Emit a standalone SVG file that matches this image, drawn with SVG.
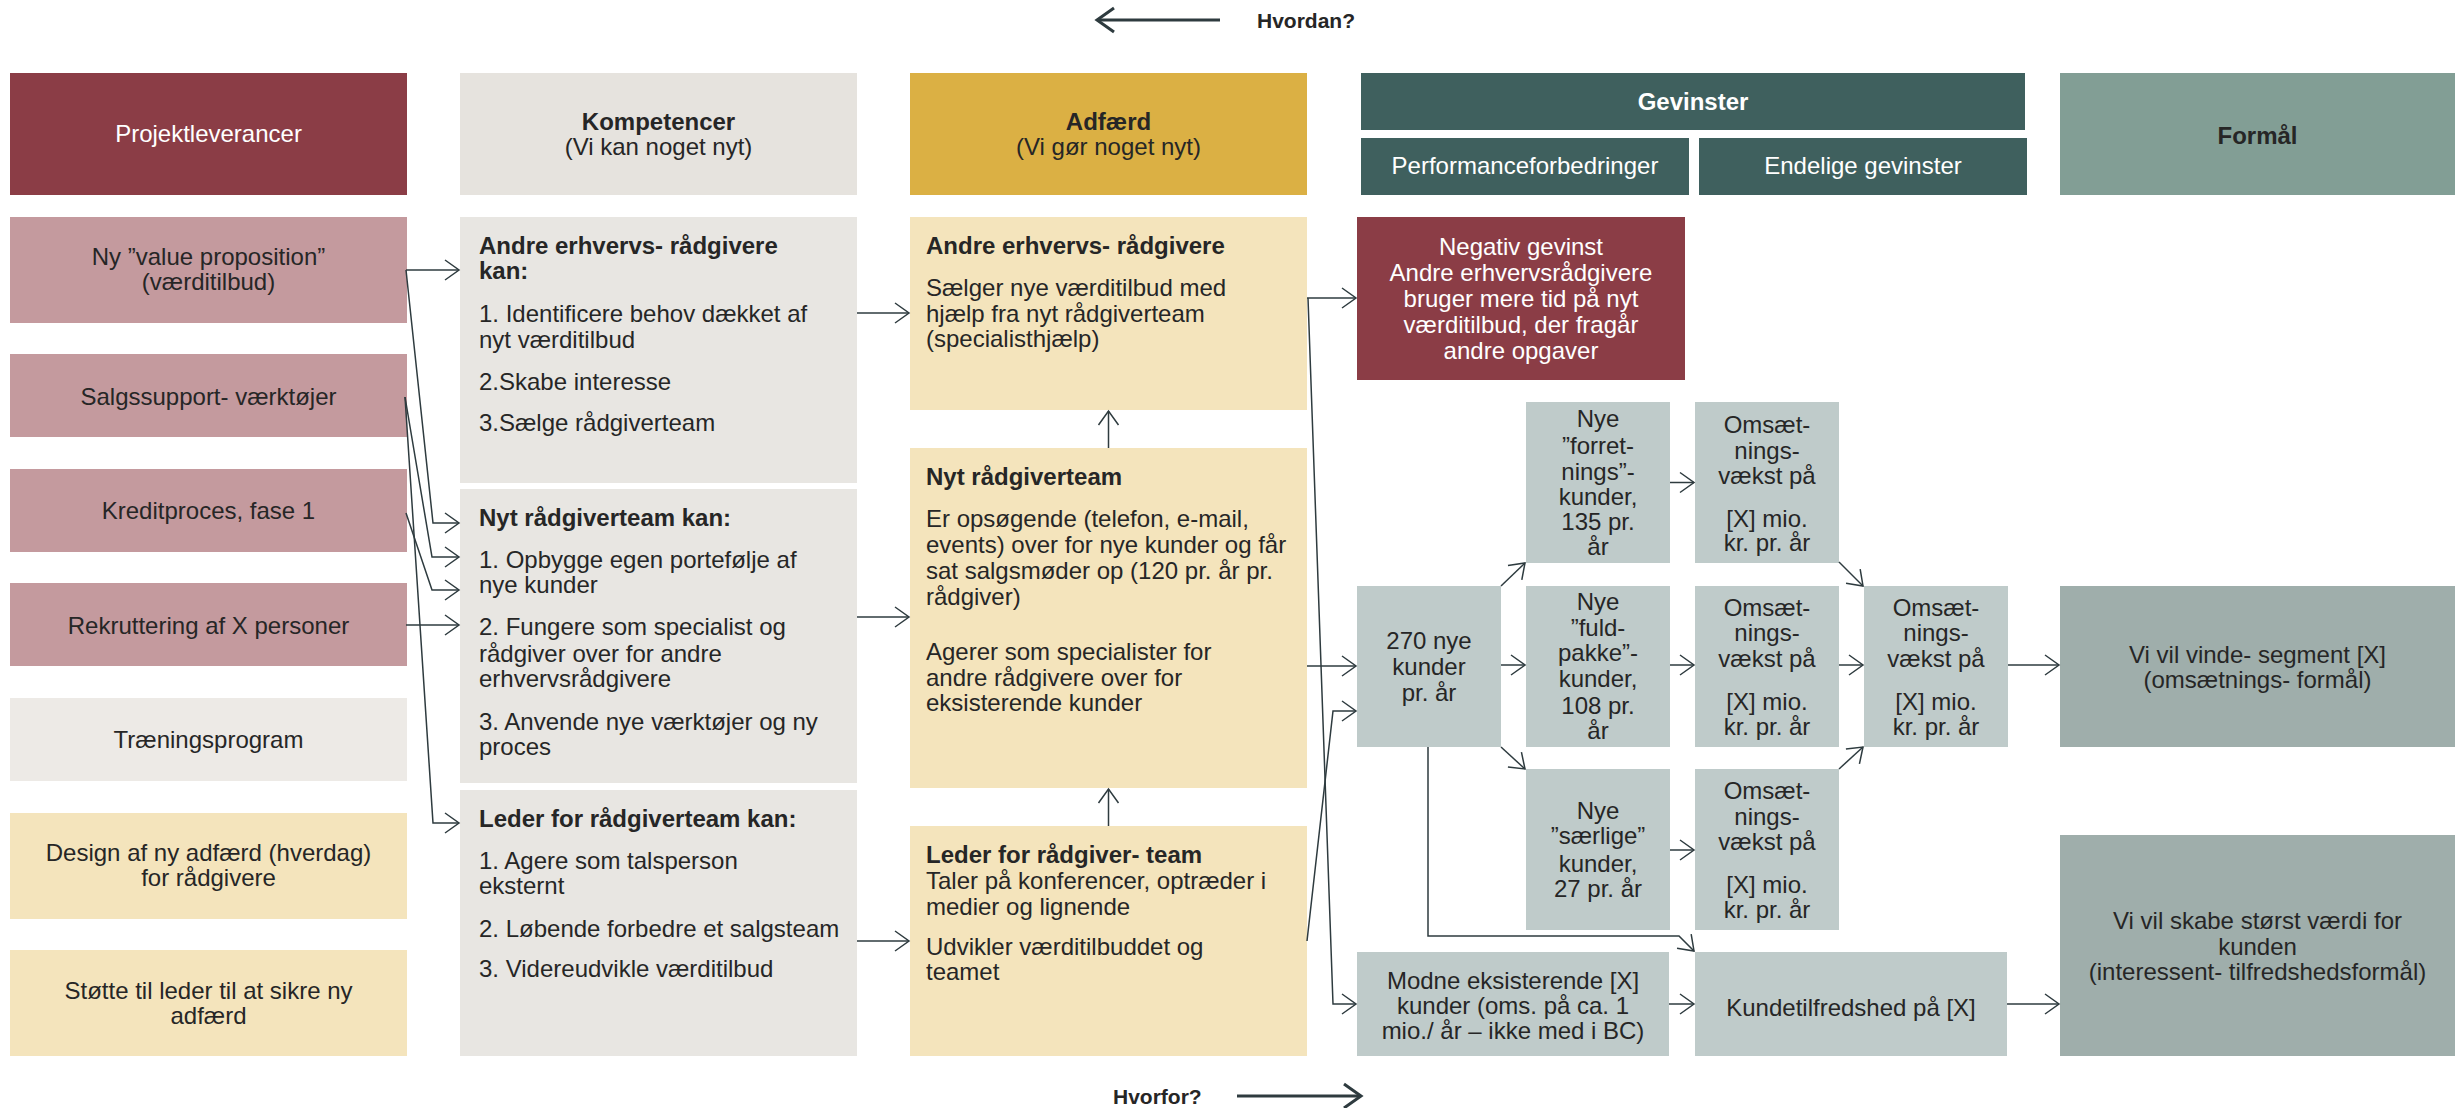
<svg xmlns="http://www.w3.org/2000/svg" width="2455" height="1108" viewBox="0 0 2455 1108">
<style>
text{font-family:"Liberation Sans",Arial,sans-serif;font-size:24px;fill:#262626}
.b{font-weight:bold}
.w{fill:#ffffff}
.c{text-anchor:middle}
.con{fill:none;stroke:#2e3b3f;stroke-width:1.5;marker-end:url(#ah)}
.big{fill:none;stroke:#2e3b3f;stroke-width:3;marker-end:url(#ahb)}
.hdr{font-size:21px;font-weight:bold}
</style>
<defs>
<marker id="ah" markerUnits="userSpaceOnUse" markerWidth="24" markerHeight="26" viewBox="-18 -13 24 26" refX="0" refY="0" orient="auto" overflow="visible"><path d="M-14,-10 L0,0 L-14,10" fill="none" stroke="#2e3b3f" stroke-width="1.5"/></marker>
<marker id="ahb" markerUnits="userSpaceOnUse" markerWidth="26" markerHeight="30" viewBox="-20 -15 26 30" refX="0" refY="0" orient="auto" overflow="visible"><path d="M-17,-12 L0,0 L-17,12" fill="none" stroke="#2e3b3f" stroke-width="3"/></marker>
</defs>
<rect width="2455" height="1108" fill="#ffffff"/>

<g id="hvordan"><text class="hdr" x="1257" y="28">Hvordan?</text></g>
<g id="hvorfor"><text class="hdr" x="1113" y="1104">Hvorfor?</text></g>

<g id="h-projekt"><rect x="10" y="73" width="397" height="122" fill="#8B3D46"/><text class="c w" x="208.5" y="142">Projektleverancer</text></g>
<g id="h-kompetencer"><rect x="460" y="73" width="397" height="122" fill="#E6E3DE"/><text class="c b" x="658.5" y="130">Kompetencer</text><text class="c" x="658.5" y="155">(Vi kan noget nyt)</text></g>
<g id="h-adfaerd"><rect x="910" y="73" width="397" height="122" fill="#DBB044"/><text class="c b" x="1108.5" y="130">Adfærd</text><text class="c" x="1108.5" y="155">(Vi gør noget nyt)</text></g>
<g id="h-gevinster"><rect x="1361" y="73" width="664" height="57" fill="#3F605E"/><text class="c b w" x="1693" y="110">Gevinster</text></g>
<g id="h-performance"><rect x="1361" y="138" width="328" height="57" fill="#3F605E"/><text class="c w" x="1525" y="174">Performanceforbedringer</text></g>
<g id="h-endelige"><rect x="1699" y="138" width="328" height="57" fill="#3F605E"/><text class="c w" x="1863" y="174">Endelige gevinster</text></g>
<g id="h-formaal"><rect x="2060" y="73" width="395" height="122" fill="#829E95"/><text class="c b" x="2257.5" y="144">Formål</text></g>

<g id="p-value"><rect x="10" y="217" width="397" height="106" fill="#C49A9E"/><text class="c" x="208.5" y="264.5">Ny ”value proposition”</text><text class="c" x="208.5" y="290">(værditilbud)</text></g>
<g id="p-salg"><rect x="10" y="354" width="397" height="83" fill="#C49A9E"/><text class="c" x="208.5" y="404.5">Salgssupport- værktøjer</text></g>
<g id="p-kredit"><rect x="10" y="469" width="397" height="83" fill="#C49A9E"/><text class="c" x="208.5" y="518.5">Kreditproces, fase 1</text></g>
<g id="p-rekrut"><rect x="10" y="583" width="397" height="83" fill="#C49A9E"/><text class="c" x="208.5" y="634">Rekruttering af X personer</text></g>
<g id="p-traening"><rect x="10" y="698" width="397" height="83" fill="#EDEAE6"/><text class="c" x="208.5" y="748">Træningsprogram</text></g>
<g id="p-design"><rect x="10" y="813" width="397" height="106" fill="#F4E4BC"/><text class="c" x="208.5" y="861">Design af ny adfærd (hverdag)</text><text class="c" x="208.5" y="886">for rådgivere</text></g>
<g id="p-stotte"><rect x="10" y="950" width="397" height="106" fill="#F4E4BC"/><text class="c" x="208.5" y="998.5">Støtte til leder til at sikre ny</text><text class="c" x="208.5" y="1024">adfærd</text></g>

<g id="k-andre"><rect x="460" y="217" width="397" height="266" fill="#E8E6E2"/>
<text class="b" x="479" y="253.5">Andre erhvervs- rådgivere</text><text class="b" x="479" y="279">kan:</text>
<text x="479" y="322">1. Identificere behov dækket af</text><text x="479" y="348">nyt værditilbud</text>
<text x="479" y="389.5">2.Skabe interesse</text><text x="479" y="430.5">3.Sælge rådgiverteam</text></g>
<g id="k-nyt"><rect x="460" y="489" width="397" height="294" fill="#E8E6E2"/>
<text class="b" x="479" y="526">Nyt rådgiverteam kan:</text>
<text x="479" y="568">1. Opbygge egen portefølje af</text><text x="479" y="593">nye kunder</text>
<text x="479" y="635">2. Fungere som specialist og</text><text x="479" y="662">rådgiver over for andre</text><text x="479" y="687">erhvervsrådgivere</text>
<text x="479" y="729.5">3. Anvende nye værktøjer og ny</text><text x="479" y="755">proces</text></g>
<g id="k-leder"><rect x="460" y="790" width="397" height="266" fill="#E8E6E2"/>
<text class="b" x="479" y="827">Leder for rådgiverteam kan:</text>
<text x="479" y="868.5">1. Agere som talsperson</text><text x="479" y="893.5">eksternt</text>
<text x="479" y="937">2. Løbende forbedre et salgsteam</text>
<text x="479" y="977">3. Videreudvikle værditilbud</text></g>

<g id="a-andre"><rect x="910" y="217" width="397" height="193" fill="#F4E4BC"/>
<text class="b" x="926" y="253.5">Andre erhvervs- rådgivere</text>
<text x="926" y="295.5">Sælger nye værditilbud med</text><text x="926" y="322">hjælp fra nyt rådgiverteam</text><text x="926" y="347">(specialisthjælp)</text></g>
<g id="a-nyt"><rect x="910" y="448" width="397" height="340" fill="#F4E4BC"/>
<text class="b" x="926" y="485">Nyt rådgiverteam</text>
<text x="926" y="527">Er opsøgende (telefon, e-mail,</text><text x="926" y="553">events) over for nye kunder og får</text><text x="926" y="579">sat salgsmøder op (120 pr. år pr.</text><text x="926" y="604.5">rådgiver)</text>
<text x="926" y="660">Agerer som specialister for</text><text x="926" y="685.5">andre rådgivere over for</text><text x="926" y="711">eksisterende kunder</text></g>
<g id="a-leder"><rect x="910" y="826" width="397" height="230" fill="#F4E4BC"/>
<text class="b" x="926" y="863">Leder for rådgiver- team</text>
<text x="926" y="888.5">Taler på konferencer, optræder i</text><text x="926" y="914.5">medier og lignende</text>
<text x="926" y="954.5">Udvikler værditilbuddet og</text><text x="926" y="980">teamet</text></g>

<g id="g-negativ"><rect x="1357" y="217" width="328" height="163" fill="#8B3D46"/>
<text class="c w" x="1521" y="254.5">Negativ gevinst</text><text class="c w" x="1521" y="280.5">Andre erhvervsrådgivere</text><text class="c w" x="1521" y="306.5">bruger mere tid på nyt</text><text class="c w" x="1521" y="333">værditilbud, der fragår</text><text class="c w" x="1521" y="359">andre opgaver</text></g>

<g id="g-forret"><rect x="1526" y="402" width="144" height="161" fill="#BFCBCA"/>
<text class="c" x="1598" y="427">Nye</text><text class="c" x="1598" y="453.5">”forret-</text><text class="c" x="1598" y="479.5">nings”-</text><text class="c" x="1598" y="505">kunder,</text><text class="c" x="1598" y="530">135 pr.</text><text class="c" x="1598" y="555">år</text></g>
<g id="g-oms1"><rect x="1695" y="402" width="144" height="161" fill="#BFCBCA"/>
<text class="c" x="1767" y="432.5">Omsæt-</text><text class="c" x="1767" y="459">nings-</text><text class="c" x="1767" y="483.5">vækst på</text><text class="c" x="1767" y="527">[X] mio.</text><text class="c" x="1767" y="551">kr. pr. år</text></g>
<g id="g-270"><rect x="1357" y="586" width="144" height="161" fill="#BFCBCA"/>
<text class="c" x="1429" y="648.5">270 nye</text><text class="c" x="1429" y="675">kunder</text><text class="c" x="1429" y="700.5">pr. år</text></g>
<g id="g-fuld"><rect x="1526" y="586" width="144" height="161" fill="#BFCBCA"/>
<text class="c" x="1598" y="609.5">Nye</text><text class="c" x="1598" y="635.5">”fuld-</text><text class="c" x="1598" y="661">pakke”-</text><text class="c" x="1598" y="687">kunder,</text><text class="c" x="1598" y="714">108 pr.</text><text class="c" x="1598" y="738.5">år</text></g>
<g id="g-oms2"><rect x="1695" y="586" width="144" height="161" fill="#BFCBCA"/>
<text class="c" x="1767" y="616">Omsæt-</text><text class="c" x="1767" y="641">nings-</text><text class="c" x="1767" y="667">vækst på</text><text class="c" x="1767" y="710">[X] mio.</text><text class="c" x="1767" y="735">kr. pr. år</text></g>
<g id="g-omsT"><rect x="1864" y="586" width="144" height="161" fill="#BFCBCA"/>
<text class="c" x="1936" y="616">Omsæt-</text><text class="c" x="1936" y="641">nings-</text><text class="c" x="1936" y="667">vækst på</text><text class="c" x="1936" y="710">[X] mio.</text><text class="c" x="1936" y="735">kr. pr. år</text></g>
<g id="g-saerlige"><rect x="1526" y="769" width="144" height="161" fill="#BFCBCA"/>
<text class="c" x="1598" y="819">Nye</text><text class="c" x="1598" y="844">”særlige”</text><text class="c" x="1598" y="871.5">kunder,</text><text class="c" x="1598" y="896.5">27 pr. år</text></g>
<g id="g-oms3"><rect x="1695" y="769" width="144" height="161" fill="#BFCBCA"/>
<text class="c" x="1767" y="799">Omsæt-</text><text class="c" x="1767" y="825">nings-</text><text class="c" x="1767" y="849.5">vækst på</text><text class="c" x="1767" y="893">[X] mio.</text><text class="c" x="1767" y="918">kr. pr. år</text></g>
<g id="g-modne"><rect x="1357" y="952" width="312" height="104" fill="#BFCBCA"/>
<text class="c" x="1513" y="988.5">Modne eksisterende [X]</text><text class="c" x="1513" y="1013.5">kunder (oms. på ca. 1</text><text class="c" x="1513" y="1038.5">mio./ år – ikke med i BC)</text></g>
<g id="g-kunde"><rect x="1695" y="952" width="312" height="104" fill="#BFCBCA"/>
<text class="c" x="1851" y="1016">Kundetilfredshed på [X]</text></g>

<g id="f-vinde"><rect x="2060" y="586" width="395" height="161" fill="#9FAEAB"/>
<text class="c" x="2257.5" y="663">Vi vil vinde- segment [X]</text><text class="c" x="2257.5" y="688">(omsætnings- formål)</text></g>
<g id="f-skabe"><rect x="2060" y="835" width="395" height="221" fill="#9FAEAB"/>
<text class="c" x="2257.5" y="929">Vi vil skabe størst værdi for</text><text class="c" x="2257.5" y="955">kunden</text><text class="c" x="2257.5" y="979.5">(interessent- tilfredshedsformål)</text></g>

<g id="connectors">
<path class="big" d="M1220,20 H1097"/>
<path class="big" d="M1237,1096 H1361"/>
<path class="con" d="M406,270 H459"/>
<path class="con" d="M406,270 L433,523 H459"/>
<path class="con" d="M405,397 L432,557 H459"/>
<path class="con" d="M405,397 L433,823 H459"/>
<path class="con" d="M406,513 L432,590 H459"/>
<path class="con" d="M406,625 H459"/>
<path class="con" d="M857,313 H909"/>
<path class="con" d="M857,617 H909"/>
<path class="con" d="M857,941 H909"/>
<path class="con" d="M1108.5,448 V411"/>
<path class="con" d="M1108.5,826 V789"/>
<path class="con" d="M1307,298 H1356"/>
<path class="con" d="M1308,298 L1333,1004 H1356"/>
<path class="con" d="M1307,666 H1356"/>
<path class="con" d="M1307,941 L1333,711 H1356"/>
<path class="con" d="M1501,586 L1525,563"/>
<path class="con" d="M1501,665 H1525"/>
<path class="con" d="M1501,747 L1525,769"/>
<path class="con" d="M1670,482.5 H1694"/>
<path class="con" d="M1670,665 H1694"/>
<path class="con" d="M1670,850 H1694"/>
<path class="con" d="M1839,562 L1863,586"/>
<path class="con" d="M1839,665 H1863"/>
<path class="con" d="M1839,769 L1863,747"/>
<path class="con" d="M2008,665 H2059"/>
<path class="con" d="M1428,747 V936 H1679 L1694,951"/>
<path class="con" d="M1669,1004 H1694"/>
<path class="con" d="M2007,1004 H2059"/>
</g>
</svg>
